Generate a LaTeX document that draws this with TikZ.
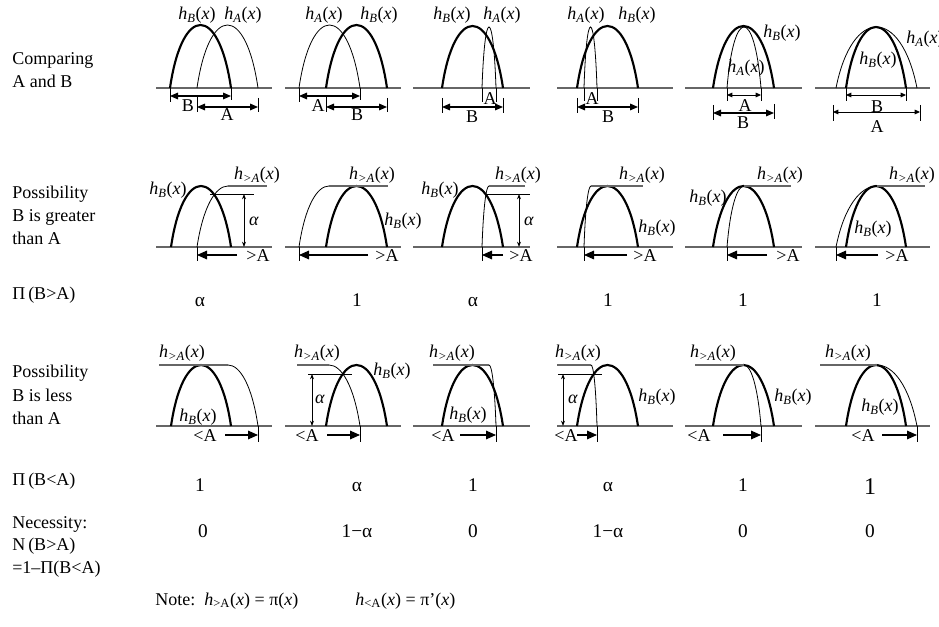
\documentclass[tikz,border=0pt]{standalone}
\usepackage{fontspec}
\setmainfont{Liberation Serif}
\usetikzlibrary{arrows.meta}
\tikzset{lbl/.style={inner sep=0pt,font=\fontsize{13.5}{16.5}\selectfont},
  val/.style={lbl,anchor=base,font=\fontsize{14.5}{16.5}\selectfont},
  hcurve/.style={line width=1.6pt},
  acurve/.style={line width=0.6pt},
  baseln/.style={draw=black!60,line width=1.1pt},
  flatln/.style={draw=black!60,line width=0.9pt},
  tk/.style={line width=0.6pt},
  dimarr/.style={{Triangle[length=6pt,width=5pt]}-{Triangle[length=6pt,width=5pt]},line width=0.8pt},
  smalldim/.style={{Triangle[length=4pt,width=3.5pt]}-{Triangle[length=4pt,width=3.5pt]},line width=0.7pt},
  onearr/.style={-{Triangle[length=7.5pt,width=6.5pt]},line width=0.8pt},
  alpharr/.style={{Stealth[length=4pt,width=3pt]}-{Stealth[length=4pt,width=3pt]},line width=0.6pt}}
\newcommand\hx[1]{\textit{h}\textsubscript{\textit{#1}}(\textit{x})}
% full arch: x0, x1, axis y, top y
\newcommand\arch[5][acurve]{\draw[#1] (#2,#4) .. controls ({#2+0.2*(#3-#2)},{#4+4/3*(#5-#4)}) and ({#3-0.2*(#3-#2)},{#4+4/3*(#5-#4)}) .. (#3,#4);}
% left and right halves: x0, xm, axis y, top y / xm, x1, axis y, top y
\newcommand\rise[4]{\draw[acurve] (#1,#3) .. controls ({#1+0.2*(#2-#1)},{#3+2/3*(#4-#3)}) and ({#1+0.6*(#2-#1)},#4) .. (#2,#4);}
\newcommand\fall[4]{\draw[acurve] (#1,#4) .. controls ({#1+0.4*(#2-#1)},#4) and ({#1+0.8*(#2-#1)},{#3+2/3*(#4-#3)}) .. (#2,#3);}

\begin{document}
\begin{tikzpicture}[x=0.75pt,y=-0.75pt]
\useasboundingbox (0,0) rectangle (939,627);
\fill[white] (0,0) rectangle (939,627);

% row captions
\foreach \t/\y [count=\i] in {Comparing/65, A and B/88, Possibility/199, B is greater/222, than A/245,
  Π\,(B>A)/300, Possibility/378, B is less/401, than A/424, Π\,(B<A)/485,
  Necessity:/528, N\,(B>A)/550, =1–Π(B<A)/573}
  \node[lbl,anchor=base west] (side\i) at (12,\y) {\t};

% axes
\foreach \a/\b in {156/272,285/401,413/530,557/673,685/802,815/930}
  \foreach \y in {88,247,426}
    \draw[baseln] (\a,\y) -- (\b,\y);

% ---- row 1: comparing A and B
\arch[hcurve]{170}{231}{88}{25} \arch{197}{258}{88}{25}
\draw[tk] (170,88) -- (170,102) (231,88) -- (231,100) (197,97) -- (197,112) (258,98) -- (258,112);
\draw[dimarr] (170,96) -- (231,96);
\draw[dimarr] (197,107) -- (258,107);
\node[lbl] (b1) at (188,106) {B};
\node[lbl] (a1) at (227,115) {A};
\node[lbl] (hb1) at (197,15) {\hx{B}};
\node[lbl] (ha1) at (243,15) {\hx{A}};

\arch{299}{360}{88}{25} \arch[hcurve]{326}{387}{88}{25}
\draw[tk] (299,88) -- (299,102) (360,88) -- (360,100) (326,97) -- (326,112) (387,98) -- (387,112);
\draw[dimarr] (299,96) -- (360,96);
\draw[dimarr] (326,107) -- (387,107);
\node[lbl] (a2) at (318,106) {A};
\node[lbl] (b2) at (357,115) {B};
\node[lbl] (ha2) at (324,15) {\hx{A}};
\node[lbl] (hb2) at (379,15) {\hx{B}};

\arch[hcurve]{442}{503}{88}{26} \arch{482}{496}{88}{27}
\draw[tk] (482,88) -- (482,102) (496,88) -- (496,102) (442,98) -- (442,113) (503,98) -- (503,113);
\draw[dimarr] (442,107) -- (503,107);
\node[lbl] (a3) at (490,99) {A};
\node[lbl] (b3) at (472,117) {B};
\node[lbl] (hb3) at (452,15) {\hx{B}};
\node[lbl] (ha3) at (502,15) {\hx{A}};

\arch[hcurve]{577}{638}{88}{26} \arch{584}{597}{88}{27}
\draw[tk] (584,88) -- (584,101) (597,88) -- (597,101) (577,98) -- (577,113) (638,98) -- (638,113);
\draw[dimarr] (577,107) -- (638,107);
\node[lbl] (a4) at (592,99) {A};
\node[lbl] (b4) at (608,117) {B};
\node[lbl] (ha4) at (586,15) {\hx{A}};
\node[lbl] (hb4) at (637,15) {\hx{B}};

\arch[hcurve]{713}{774}{88}{26} \arch{727}{761}{88}{27}
\draw[tk] (727,88) -- (727,101) (761,88) -- (761,101) (713,105) -- (713,120) (774,104) -- (774,119);
\draw[smalldim] (727,95) -- (761,95);
\draw[dimarr] (713,113) -- (774,113);
\node[lbl] (a5) at (745,106) {A};
\node[lbl] (b5) at (743,123) {B};
\node[lbl] (hb5) at (782,33) {\hx{B}};
\node[lbl] (ha5) at (746,68) {\hx{A}};

\arch{836}{917}{88}{27} \arch[hcurve]{846}{906}{88}{27}
\draw[tk] (846,88) -- (846,101) (906,88) -- (906,101) (833,105) -- (833,121) (920,105) -- (920,121);
\draw[smalldim] (846,95) -- (906,95);
\draw[smalldim] (833,112) -- (920,112);
\node[lbl] (b6) at (877,107) {B};
\node[lbl] (a6) at (877,127) {A};
\node[lbl] (hb6) at (878,60) {\hx{B}};
\node[lbl] (ha6) at (925,39) {\hx{A}};

% ---- row 2: possibility B greater than A
\foreach \p/\q/\o/\m/\e/\s/\g [count=\i] in {171/231/197/228/267/237/258, 326/387/299/329/388/368/387,
    442/503/482/489/525/503/521, 577/638/584/591/643/627/645, 713/774/727/744/791/767/788,
    846/906/836/877/925/878/897}{
  \arch[hcurve]{\p}{\q}{247}{186}
  \rise{\o}{\m}{247}{186}
  \draw[flatln] (\m,186) -- (\e,186);
  \draw[tk] (\o,247) -- (\o,261);
  \draw[onearr] (\s,255) -- (\o,255);
  \node[lbl] (gt\i) at (\g,256) {>A};
}
\foreach \x/\y [count=\i] in {257/175,372/175,518/175,642/175,780/175,912/175}
  \node[lbl] (hg\i) at (\x,\y) {\hx{>A}};
\foreach \x/\y [count=\i] in {168/190,403/221,440/190,657/228,708/198,873/229}
  \node[lbl] (hbg\i) at (\x,\y) {\hx{B}};
\draw[acurve] (210,194) -- (254,194) (487,194) -- (530,194);
\draw[alpharr] (244,194) -- (244,247);
\draw[alpharr] (519,194) -- (519,247);
\node[lbl] (al1) at (254,221) {\textit{α}};
\node[lbl] (al2) at (529,221) {\textit{α}};

% ---- row 3: possibility B less than A
\foreach \p/\q/\b/\m/\o/\s/\l [count=\i] in {171/231/159/228/258/225/205, 326/387/297/329/360/327/307,
    442/503/433/489/496/460/443, 577/638/557/591/597/577/566, 713/774/695/744/761/723/699,
    846/906/820/877/917/882/863}{
  \arch[hcurve]{\p}{\q}{426}{365}
  \draw[flatln] (\b,365) -- (\m,365);
  \fall{\m}{\o}{426}{365}
  \draw[tk] (\o,426) -- (\o,442);
  \draw[onearr] (\s,435) -- (\o,435);
  \node[lbl] (lt\i) at (\l,436) {<A};
}
\foreach \x/\y [count=\i] in {182/353,317/353,452/353,578/353,713/353,848/353}
  \node[lbl] (hl\i) at (\x,\y) {\hx{>A}};
\foreach \x/\y [count=\i] in {198/417,392/371,468/415,657/397,793/397,880/407}
  \node[lbl] (hbl\i) at (\x,\y) {\hx{B}};
\draw[acurve] (308,374) -- (352,374) (558,374) -- (602,374);
\draw[alpharr] (312,374) -- (312,426);
\draw[alpharr] (563,374) -- (563,426);
\node[lbl] (al3) at (320,399) {\textit{α}};
\node[lbl] (al4) at (573,399) {\textit{α}};

% ---- values
\foreach \x/\v [count=\i] in {200/α,357/1,473/α,608/1,743/1,877/1}
  \node[val] (pg\i) at (\x,306) {\v};
\foreach \x/\v [count=\i] in {200/1,357/α,473/1,608/α,743/1}
  \node[val] (pl\i) at (\x,491) {\v};
\node[val,font=\fontsize{18}{20}\selectfont] (pl6) at (870,494) {1};
\foreach \x/\v [count=\i] in {203/0,357/1−α,473/0,608/1−α,743/0,870/0}
  \node[val] (nc\i) at (\x,537) {\v};

% note
\node[lbl,anchor=base west] (note1) at (155,605) {Note:\ \ \textit{h}\textsubscript{>A}(\textit{x}) = π(\textit{x})};
\node[lbl,anchor=base west] (note2) at (355,605) {\textit{h}\textsubscript{<A}(\textit{x}) = π’(\textit{x})};
\end{tikzpicture}
\end{document}
